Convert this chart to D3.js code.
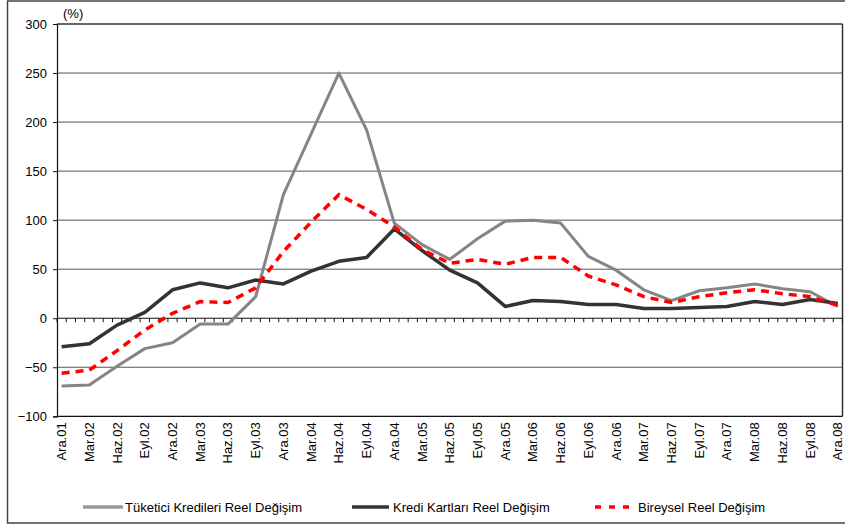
<!DOCTYPE html>
<html>
<head>
<meta charset="utf-8">
<script src="https://cdn.jsdelivr.net/npm/d3@7"></script>
<style>
  body { margin: 0; background: #fff; }
  text { font-family: "Liberation Sans", Arial, sans-serif; fill: #000; }
</style>
</head>
<body>
<svg id="chart" width="845" height="527"></svg>
<script>
// quarterly labels (data is placed on a monthly category axis, every 3rd month)
var quarters = ["Ara.01","Mar.02","Haz.02","Eyl.02","Ara.02","Mar.03","Haz.03","Eyl.03",
  "Ara.03","Mar.04","Haz.04","Eyl.04","Ara.04","Mar.05","Haz.05","Eyl.05",
  "Ara.05","Mar.06","Haz.06","Eyl.06","Ara.06","Mar.07","Haz.07","Eyl.07",
  "Ara.07","Mar.08","Haz.08","Eyl.08","Ara.08"];

var tuketici = [-69, -68, -49, -31, -25, -6, -6, 22,
  126, 188, 250, 192, 97, 75, 60, 81,
  99, 100, 97, 63, 49, 29, 18, 28,
  31, 35, 30, 27, 12];

var krediKarti = [-29, -26, -7, 6, 29, 36, 31, 39,
  35, 48, 58, 62, 91, 69, 49, 36,
  12, 18, 17, 14, 14, 10, 10, 11,
  12, 17, 14, 19, 15];

var bireysel = [-56, -53, -33, -12, 5, 17, 16, 31,
  68, 98, 126, 111, 93, 70, 56, 60,
  55, 62, 62, 43, 34, 22, 16, 22,
  26, 29, 25, 22, 13];

var yTicks = [-100, -50, 0, 50, 100, 150, 200, 250, 300];

var seriesNames = ["Tüketici Kredileri Reel Değişim", "Kredi Kartları Reel Değişim", "Bireysel Reel Değişim"];

var svg = d3.select("#chart");

// plot area edges (note: "top" is a reserved window property, so prefixed names)
var plotL = 57, plotR = 842.5, plotT = 24, plotB = 416.3;
var nMonths = (quarters.length - 1) * 3 + 1;

var x = d3.scaleLinear().domain([-0.5, nMonths - 0.5]).range([plotL, plotR]);
var y = d3.scaleLinear().domain([-100, 300]).range([plotB, plotT]);

// outer frame
svg.append("rect").attr("x", 7.5).attr("y", 1).attr("width", 850).attr("height", 522)
  .attr("fill", "none").attr("stroke", "#444").attr("stroke-width", 1.5);

// gridlines
svg.append("g").selectAll("line").data(yTicks.filter(function(d){ return d != 0 && d != -100 && d != 300; }))
  .enter().append("line")
  .attr("x1", plotL).attr("x2", plotR)
  .attr("y1", function(d){ return y(d); }).attr("y2", function(d){ return y(d); })
  .attr("stroke", "#555").attr("stroke-width", 1);

// plot border top/right/bottom
svg.append("line").attr("x1", plotL).attr("x2", plotR).attr("y1", y(300)).attr("y2", y(300))
  .attr("stroke", "#333").attr("stroke-width", 1.5);
svg.append("line").attr("x1", plotR).attr("x2", plotR).attr("y1", y(300)).attr("y2", y(-100))
  .attr("stroke", "#333").attr("stroke-width", 1.5);
svg.append("line").attr("x1", plotL).attr("x2", plotR).attr("y1", y(-100)).attr("y2", y(-100))
  .attr("stroke", "#111").attr("stroke-width", 1.2);

// y axis
var yAxis = d3.axisLeft(y).tickValues(yTicks).tickSize(4).tickPadding(6);
var gy = svg.append("g").attr("transform", "translate(" + plotL + ",0)").call(yAxis);
gy.select(".domain").attr("stroke", "#111").attr("stroke-width", 1.2);
gy.selectAll(".tick line").attr("stroke", "#111");
gy.selectAll(".tick text").style("font-size", "13px").style("font-family", "Liberation Sans, Arial, sans-serif").attr("fill", "#000");

// category axis on the zero line, with a tick between every month
var boundaries = d3.range(nMonths + 1).map(function(k){ return k - 0.5; });
svg.append("line").attr("x1", plotL).attr("x2", plotR).attr("y1", y(0)).attr("y2", y(0))
  .attr("stroke", "#111").attr("stroke-width", 1.2);
svg.append("g").selectAll("line").data(boundaries).enter().append("line")
  .attr("x1", function(d){ return x(d); }).attr("x2", function(d){ return x(d); })
  .attr("y1", y(0)).attr("y2", y(0) + 4)
  .attr("stroke", "#111").attr("stroke-width", 1);

// rotated category labels under the plot
svg.append("g").selectAll("text").data(quarters).enter().append("text")
  .attr("transform", function(d, i){ return "translate(" + (x(i * 3) + 4.5) + "," + (plotB + 6) + ") rotate(-90)"; })
  .attr("text-anchor", "end")
  .style("font-size", "13px")
  .text(function(d){ return d; });

svg.append("text").attr("x", 63).attr("y", 18).style("font-size", "13px").text("(%)");

// lines
var line = d3.line()
  .x(function(d, i){ return x(i * 3); })
  .y(function(d){ return y(d); });

svg.append("path").datum(tuketici).attr("d", line)
  .attr("fill", "none").attr("stroke", "#858585").attr("stroke-width", 3).attr("stroke-linejoin", "round");
svg.append("path").datum(krediKarti).attr("d", line)
  .attr("fill", "none").attr("stroke", "#333").attr("stroke-width", 3.5).attr("stroke-linejoin", "round");
svg.append("path").datum(bireysel).attr("d", line)
  .attr("fill", "none").attr("stroke", "#ff0000").attr("stroke-width", 3.5).attr("stroke-dasharray", "8,6");

// legend
var legendY = 507;
var legend = [
  {name: seriesNames[0], x1: 83, x2: 123, tx: 125, stroke: "#999", w: 3.5, dash: null},
  {name: seriesNames[1], x1: 352, x2: 389, tx: 393, stroke: "#333", w: 3.5, dash: null},
  {name: seriesNames[2], x1: 595, x2: 636, tx: 638, stroke: "#ff0000", w: 3.5, dash: "6,8"}
];
var lg = svg.append("g").selectAll("g").data(legend).enter().append("g");
lg.append("line")
  .attr("x1", function(d){ return d.x1; }).attr("x2", function(d){ return d.x2; })
  .attr("y1", legendY).attr("y2", legendY)
  .attr("stroke", function(d){ return d.stroke; }).attr("stroke-width", function(d){ return d.w; })
  .attr("stroke-dasharray", function(d){ return d.dash; });
lg.append("text")
  .attr("x", function(d){ return d.tx; }).attr("y", legendY + 5)
  .style("font-size", "13px")
  .text(function(d){ return d.name; });
</script>
</body>
</html>
